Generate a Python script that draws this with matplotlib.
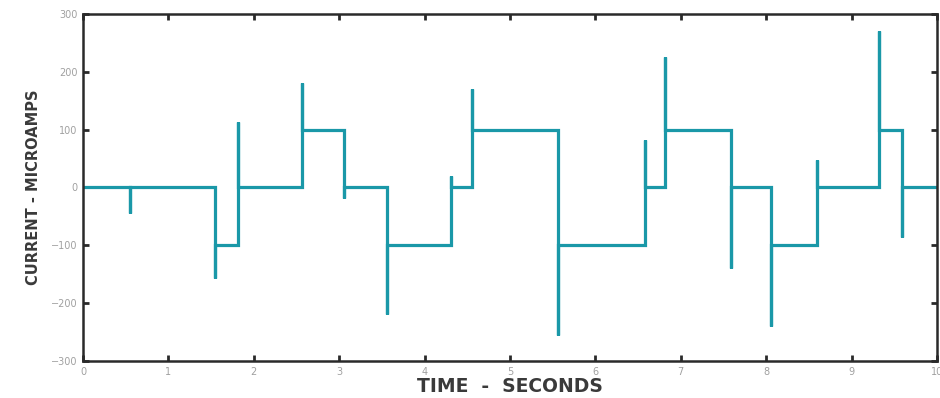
import matplotlib
matplotlib.use("Agg")
import matplotlib.pyplot as plt

# step events: time (s), spike peak (uA), level after the step (uA)
event_t = [0.55, 1.54, 1.81, 2.57, 3.06, 3.56, 4.31, 4.56, 5.56,
           6.58, 6.81, 7.59, 8.06, 8.59, 9.32, 9.59]
event_peak = [-45, -157, 113, 180, -18, -218, 20, 170, -255,
              82, 225, -139, -240, 47, 270, -85]
event_level = [0, -100, 0, 100, 0, -100, 0, 100, -100,
               0, 100, 0, -100, 0, 100, 0]
start_level = 0
t_end = 10

# build the trace: hold level, jump to spike, settle on new level
xs = [0]
ys = [start_level]
level = start_level
for t, p, lv in zip(event_t, event_peak, event_level):
    xs += [t, t, t]
    ys += [level, p, lv]
    level = lv
xs.append(t_end)
ys.append(level)

fig = plt.figure(figsize=(9.4, 3.98), dpi=100)
ax = fig.add_axes([0.0883, 0.093, 0.9085, 0.872])

ax.plot(xs, ys, color="#1a98a8", linewidth=2.3, solid_joinstyle="miter")

ax.set_xlim(0, 10)
ax.set_ylim(-300, 300)
ax.set_xticks(range(0, 11))
ax.set_yticks(range(-300, 301, 100))

for s in ax.spines.values():
    s.set_linewidth(1.8)
    s.set_color("#2a2a2a")
ax.tick_params(direction="in", top=True, right=True, length=4, width=2,
               labelsize=7, labelcolor="#a0a0a0", color="#2a2a2a", pad=4)

ax.set_xlabel("TIME  -  SECONDS", fontsize=13.5, fontweight="bold", color="#3a3a3a",
              labelpad=0)
ax.set_ylabel("CURRENT - MICROAMPS", fontsize=10.5, fontweight="bold", color="#3a3a3a",
              labelpad=7)

fig.savefig("out.png", dpi=100)
